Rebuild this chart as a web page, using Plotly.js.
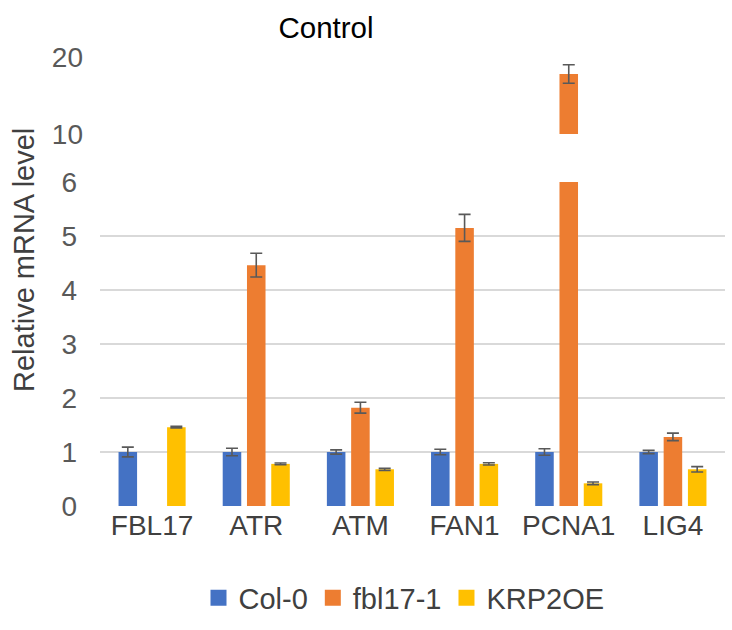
<!DOCTYPE html>
<html>
<head>
<meta charset="utf-8">
<script src="https://cdn.plot.ly/plotly-3.0.1.min.js"></script>
<style>html,body{margin:0;padding:0;background:#fff;}#chart{width:732px;height:630px;}</style>
</head>
<body>
<div id="chart"></div>
<script>
var categories = ['FBL17', 'ATR', 'ATM', 'FAN1', 'PCNA1', 'LIG4'];
var seriesNames = ['Col-0', 'fbl17-1', 'KRP2OE'];
var col0 = [1.0, 1.0, 1.0, 1.0, 1.0, 1.0];
var col0Err = [0.09, 0.07, 0.04, 0.05, 0.06, 0.03];
var fbl17 = [null, 4.46, 1.82, 5.15, 17.8, 1.28];
var fbl17Err = [null, 0.22, 0.10, 0.25, 1.2, 0.07];
var krp2oe = [1.46, 0.78, 0.68, 0.78, 0.42, 0.68];
var krp2oeErr = [0.015, 0.015, 0.02, 0.02, 0.025, 0.05];
var lowerTicks = [0, 1, 2, 3, 4, 5, 6];
var upperTicks = [10, 20];

var colors = ['#4472C4', '#ED7D31', '#FFC000'];
var FONT = 'Liberation Sans, Arial, sans-serif';
var FS = 28;
var BW = 0.178, STEP = 0.233;
var offsets = [-STEP - BW / 2, -BW / 2, STEP - BW / 2];
var vals = [col0, fbl17, krp2oe];
var errs = [col0Err, fbl17Err, krp2oeErr];

var traces = [];
for (var i = 0; i < 3; i++) {
  var eb = {type: 'data', array: errs[i], visible: true, color: '#595959', thickness: 1.6, width: 6};
  traces.push({type: 'bar', name: seriesNames[i], x: categories, y: vals[i], width: BW, offset: offsets[i],
    marker: {color: colors[i], line: {width: 0}}, error_y: eb, xaxis: 'x', yaxis: 'y',
    showlegend: false, hoverinfo: 'skip'});
}
// upper (broken) section: only fbl17-1 / PCNA1 exceeds the break
traces.push({type: 'bar', name: seriesNames[1], x: categories, y: fbl17, width: BW, offset: offsets[1],
  marker: {color: colors[1], line: {width: 0}},
  error_y: {type: 'data', array: fbl17Err, visible: true, color: '#595959', thickness: 1.6, width: 6},
  xaxis: 'x', yaxis: 'y2', showlegend: false, hoverinfo: 'skip'});
// legend entries with larger square swatches
for (var j = 0; j < 3; j++) {
  traces.push({type: 'scatter', mode: 'markers', name: seriesNames[j], x: [null], y: [null],
    marker: {symbol: 'square', size: 16, color: colors[j]}, xaxis: 'x', yaxis: 'y', hoverinfo: 'skip'});
}

var plotTop = 57, plotBot = 506, H = plotBot - plotTop;
var layout = {
  width: 732, height: 630,
  margin: {l: 100, r: 7, t: plotTop, b: 630 - plotBot},
  paper_bgcolor: '#ffffff', plot_bgcolor: '#ffffff',
  barmode: 'overlay',
  showlegend: true,
  title: {text: 'Control', font: {family: FONT, size: 29.5, color: '#000000'},
    x: (326 - 100) / 625, xref: 'paper', xanchor: 'center', y: 1 - 28 / 630, yanchor: 'middle'},
  xaxis: {type: 'category', range: [-0.5, 5.5], showgrid: false, zeroline: false, showline: false,
    ticks: '', tickfont: {family: FONT, size: FS, color: '#404040'}, ticklabelstandoff: 0, fixedrange: true},
  yaxis: {domain: [0, (plotBot - 182) / H], range: [0, 6], tickvals: lowerTicks, ticktext: lowerTicks.map(String),
    showgrid: true, gridcolor: '#D9D9D9', gridwidth: 1.3, zeroline: false, showline: false, ticks: '',
    tickfont: {family: FONT, size: FS, color: '#595959'}, ticklabelstandoff: 22, fixedrange: true},
  yaxis2: {domain: [(plotBot - 134) / H, 1], range: [10, 20], tickvals: upperTicks, ticktext: upperTicks.map(String),
    showgrid: true, gridcolor: '#D9D9D9', gridwidth: 1.3, zeroline: false, showline: false, ticks: '',
    tickfont: {family: FONT, size: FS, color: '#595959'}, ticklabelstandoff: 16, fixedrange: true, anchor: 'x'},
  legend: {orientation: 'h', x: (404 - 100) / 625, xanchor: 'center', y: (plotBot - 598) / H, yanchor: 'middle',
    font: {family: FONT, size: 29, color: '#404040'}, itemwidth: 30, tracegroupgap: 0, traceorder: 'normal'},
  annotations: [{text: 'Relative mRNA level', textangle: -90, xref: 'paper', yref: 'paper',
    x: (24 - 100) / 625, y: (plotBot - 260) / H, xanchor: 'center', yanchor: 'middle', showarrow: false,
    font: {family: FONT, size: 29, color: '#404040'}}]
};
Plotly.newPlot('chart', traces, layout, {displayModeBar: false, staticPlot: true});
</script>
</body>
</html>
